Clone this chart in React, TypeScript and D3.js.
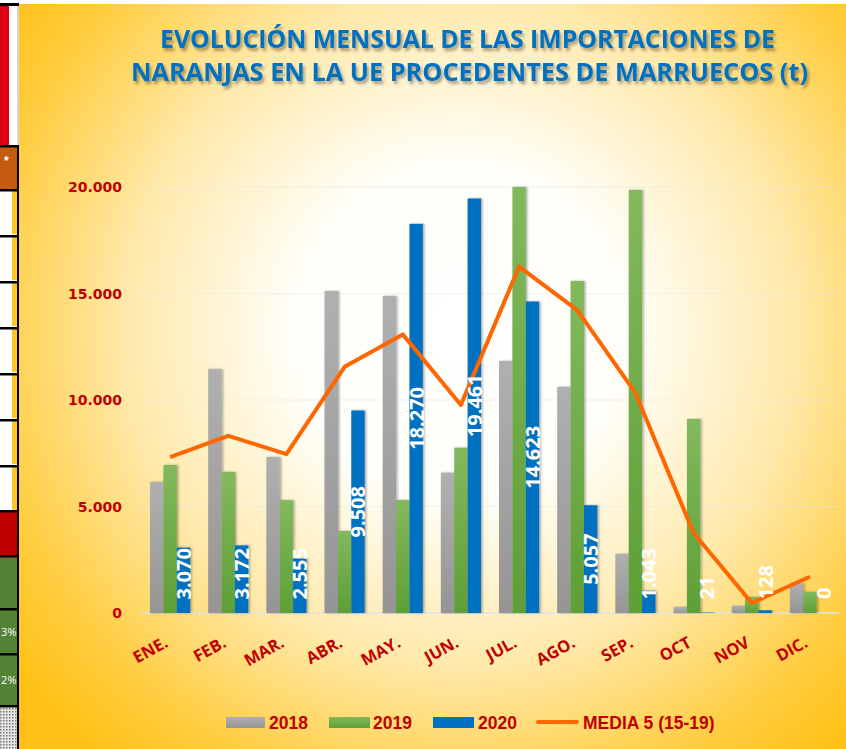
import React from "react";
import * as d3 from "d3";

const months = ["ENE.", "FEB.", "MAR.", "ABR.", "MAY.", "JUN.", "JUL.", "AGO.", "SEP.", "OCT", "NOV", "DIC."];
const series = ["2018", "2019", "2020"];
const v2018 = [6150, 11450, 7320, 15120, 14880, 6590, 11830, 10620, 2770, 280, 340, 1410];
const v2019 = [6950, 6620, 5300, 3850, 5300, 7760, 20400, 15590, 19860, 9110, 750, 990];
const v2020 = [3070, 3172, 2555, 9508, 18270, 19461, 14623, 5057, 1043, 21, 128, 0];
const media5 = [7320, 8320, 7460, 11560, 13080, 9770, 16260, 14220, 10330, 3760, 470, 1700];
const yTicks = [0, 5000, 10000, 15000, 20000];
const titleLines = [
  "EVOLUCIÓN  MENSUAL DE LAS IMPORTACIONES DE",
  "NARANJAS EN LA UE PROCEDENTES  DE MARRUECOS  (t)",
];

const RED = "#C00000";
const fmt = d3
  .formatLocale({ decimal: ",", thousands: ".", grouping: [3], currency: ["", "€"] })
  .format(",.0f");

// strip of the neighbouring table that shows at the left edge
function LeftStrip() {
  const rows = [190, 236, 282, 328, 374, 420, 466];
  return (
    <g>
      <rect x={0} y={0} width={19} height={749} fill="#fff" />
      <rect x={0} y={3} width={19} height={3} fill="#000" />
      <rect x={0} y={6} width={9} height={139} fill="#DE0012" />
      <rect x={17} y={6} width={2} height={139} fill="#D6D6D6" />
      <rect x={0} y={147} width={17} height={42} fill="#C55A11" />
      <text x={4} y={165} fill="#fff" fontSize={12} fontFamily="Liberation Sans" fontWeight="bold">*</text>
      {rows.map((y) => (
        <rect key={y} x={12} y={y} width={5} height={44} fill="#FFC62A" />
      ))}
      <rect x={0} y={511} width={17} height={44} fill="#C00000" />
      <rect x={0} y={557} width={17} height={51} fill="#548235" />
      <rect x={0} y={610} width={17} height={43} fill="#548235" />
      <rect x={0} y={655} width={17} height={50} fill="#548235" />
      <rect x={0} y={707} width={17} height={42} fill="url(#dots)" />
      <text x={16.5} y={636} textAnchor="end" fill="#fff" fontSize={11} fontFamily="Open Sans">3%</text>
      <text x={16.5} y={684} textAnchor="end" fill="#fff" fontSize={11} fontFamily="Open Sans">2%</text>
      {[145, 189, 235, 281, 327, 373, 419, 465, 510, 555, 608, 653, 705].map((y) => (
        <rect key={y} x={0} y={y} width={19} height={2.5} fill="#000" />
      ))}
      <rect x={17} y={145} width={2.5} height={604} fill="#000" />
    </g>
  );
}

export default function App() {
  const width = 846;
  const height = 749;

  const x = d3.scaleBand<string>().domain(months).range([141, 839]);
  const step = x.bandwidth();
  const xs = d3
    .scaleBand<string>()
    .domain(series)
    .range([step * 0.155, step * 0.845]);
  const y = d3.scaleLinear().domain([0, 20000]).range([613, 187]).clamp(true);

  const data = [v2018, v2019, v2020];
  const fills = ["url(#gGrey)", "url(#gGreen)", "#0070C0"];

  const line = d3
    .line<number>()
    .x((_, i) => (x(months[i]) as number) + step / 2)
    .y((d) => y(d));

  const labelLen = (s: string) =>
    s.split("").reduce((a, c) => a + (c === "." ? 5.6 : 11.2), 0);

  return (
    <svg
      width={width}
      height={height}
      style={{ position: "absolute", left: 0, top: 0 }}
    >
      <defs>
        <radialGradient id="bg" gradientUnits="userSpaceOnUse" cx={460} cy={330} r={560}>
          <stop offset="0" stopColor="#FFFFFF" />
          <stop offset="0.3" stopColor="#FFFEF8" />
          <stop offset="0.6" stopColor="#FFE9AA" />
          <stop offset="0.85" stopColor="#FFCD40" />
          <stop offset="1" stopColor="#FFC115" />
        </radialGradient>
        <linearGradient id="gGrey" x1="0" y1="0" x2="0" y2="1">
          <stop offset="0" stopColor="#B0B0B0" />
          <stop offset="1" stopColor="#959595" />
        </linearGradient>
        <linearGradient id="gGreen" x1="0" y1="0" x2="0" y2="1">
          <stop offset="0" stopColor="#82B95D" />
          <stop offset="1" stopColor="#5E9F36" />
        </linearGradient>
        <pattern id="dots" width={3} height={3} patternUnits="userSpaceOnUse">
          <rect width={3} height={3} fill="#E6E6E6" />
          <rect width={1.5} height={1.5} fill="#777" />
        </pattern>
        <filter id="barShadow" x="-30%" y="-5%" width="160%" height="110%">
          <feDropShadow dx={1.5} dy={0} stdDeviation={1.2} floodColor="#000" floodOpacity={0.35} />
        </filter>
        <filter id="titleShadow" x="-5%" y="-30%" width="110%" height="160%">
          <feDropShadow dx={2} dy={3} stdDeviation={1.5} floodColor="#000" floodOpacity={0.35} />
        </filter>
      </defs>

      <LeftStrip />
      <rect x={19} y={4} width={width - 19} height={height - 4} fill="url(#bg)" />

      {/* title */}
      <g filter="url(#titleShadow)" fill="#0070C0" fontFamily="Open Sans" fontWeight="bold" fontSize={25}>
        <text x={160} y={48} textLength={615} lengthAdjust="spacingAndGlyphs">{titleLines[0]}</text>
        <text x={131} y={81} textLength={677} lengthAdjust="spacingAndGlyphs">{titleLines[1]}</text>
      </g>

      {/* gridlines */}
      {yTicks.slice(1).map((t) => (
        <line key={t} x1={141} x2={839} y1={y(t)} y2={y(t)} stroke="#E6E6E6" strokeOpacity={0.5} />
      ))}
      <line x1={141} x2={839} y1={y(0)} y2={y(0)} stroke="#E2E2E2" strokeWidth={1.5} />

      {/* y axis labels */}
      {yTicks.map((t) => (
        <text
          key={t}
          x={122}
          y={y(t)}
          dominantBaseline="central"
          textAnchor="end"
          fill={RED}
          fontFamily="DejaVu Sans"
          fontWeight="bold"
          fontSize={14}
        >
          {fmt(t)}
        </text>
      ))}

      {/* bars */}
      {months.map((m, i) => (
        <g key={m} transform={`translate(${x(m)},0)`}>
          {series.map((s, k) => {
            const v = data[k][i];
            return (
              <rect
                key={s}
                x={xs(s)}
                y={y(v)}
                width={xs.bandwidth()}
                height={y(0) - y(v)}
                fill={fills[k]}
                filter="url(#barShadow)"
              />
            );
          })}
        </g>
      ))}

      {/* average line */}
      <path d={line(media5) || ""} fill="none" stroke="#FF6600" strokeWidth={4} strokeLinejoin="round" />

      {/* data labels of 2020 */}
      {months.map((m, i) => {
        const v = v2020[i];
        const s = fmt(v);
        const cx = (x(m) as number) + (xs("2020") as number) + xs.bandwidth() / 2;
        const half = labelLen(s) / 2;
        const cy = Math.min((y(v) + y(0)) / 2, y(0) - 14 - half);
        return (
          <text
            key={m}
            transform={`translate(${cx},${cy}) rotate(-90)`}
            textAnchor="middle"
            dominantBaseline="central"
            fill="#fff"
            fontFamily="Open Sans"
            fontWeight="bold"
            fontSize={20}
          >
            {s}
          </text>
        );
      })}

      {/* x axis labels */}
      {months.map((m) => (
        <text
          key={m}
          transform={`translate(${(x(m) as number) + step / 2 - 1},646) rotate(-29)`}
          textAnchor="end"
          fill={RED}
          fontFamily="Open Sans"
          fontWeight="bold"
          fontSize={16.5}
        >
          {m}
        </text>
      ))}

      {/* legend */}
      <g fontFamily="Liberation Sans" fontWeight="bold" fontSize={17.5} fill={RED}>
        <rect x={226} y={717} width={39} height={11} fill="url(#gGrey)" />
        <text x={269} y={729}>2018</text>
        <rect x={329} y={717} width={41} height={11} fill="url(#gGreen)" />
        <text x={373} y={729}>2019</text>
        <rect x={433} y={717} width={41} height={11} fill="#0070C0" />
        <text x={478} y={729}>2020</text>
        <line x1={538} x2={577} y1={722} y2={722} stroke="#FF6600" strokeWidth={4} strokeLinecap="round" />
        <text x={583} y={729}>MEDIA 5 (15-19)</text>
      </g>
    </svg>
  );
}
